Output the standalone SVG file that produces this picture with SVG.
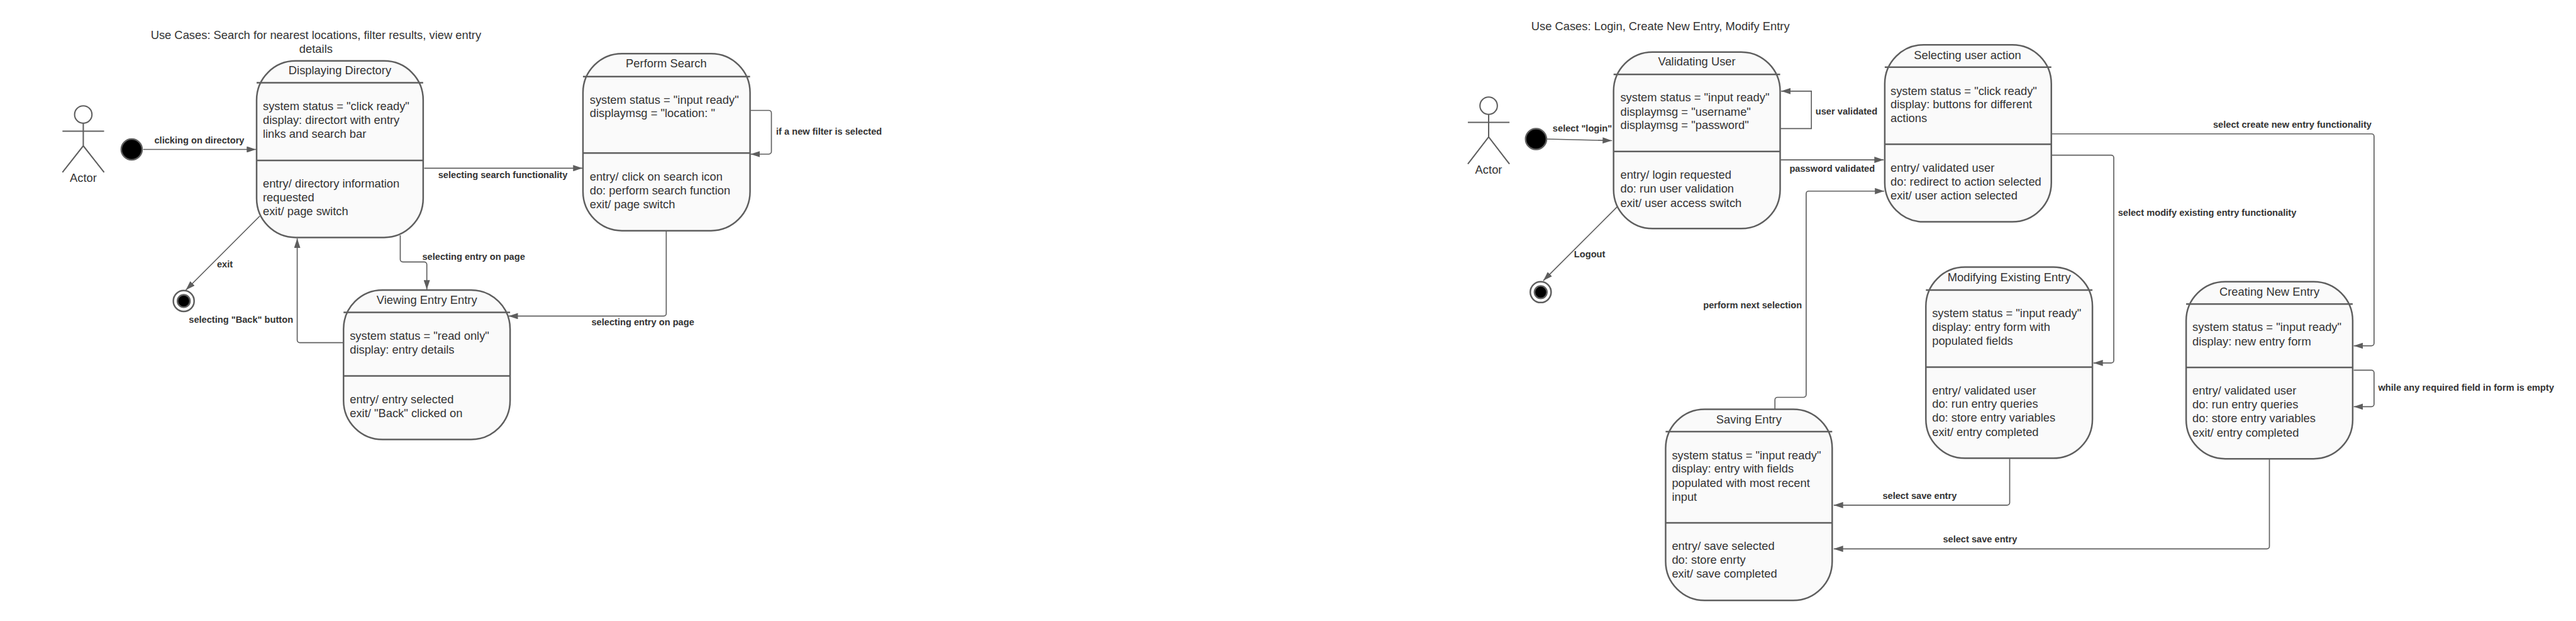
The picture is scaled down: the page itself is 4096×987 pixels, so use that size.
<svg xmlns="http://www.w3.org/2000/svg" width="4096" height="987" viewBox="0 0 4096 987">
<style>
text{font-family:"Liberation Sans",Arial,sans-serif;fill:#333}
.t{font-size:22.2px}
.m{text-anchor:middle}
.l{font-size:17.7px;font-weight:700}
.box{fill:#fafafa;stroke:#5e5e5e;stroke-width:3}
.sep{stroke:#5e5e5e;stroke-width:3;fill:none}
.c{fill:none;stroke:#5e5e5e;stroke-width:2;marker-end:url(#a)}
.fig{fill:none;stroke:#5e5e5e;stroke-width:2.5}
.start{fill:#000;stroke:#5e5e5e;stroke-width:3}
.endo{fill:#fff;stroke:#5e5e5e;stroke-width:3}
.endi{fill:#000;stroke:#5e5e5e;stroke-width:3}
</style>
<defs>
<marker id="a" markerUnits="userSpaceOnUse" viewBox="0 0 18 12" markerWidth="18" markerHeight="12" refX="18" refY="6" orient="auto"><path d="M0 0L18 6L0 12Z" fill="#5e5e5e"/></marker>
</defs>
<rect width="4096" height="987" fill="#fff"/>
<g transform="scale(0.82764)">
<g id="connectors">
<path class="c" d="M275 287H492"/>
<path class="c" d="M499 415L357 557"/>
<path class="c" d="M660 658H576a5 5 0 0 1-5-5V458"/>
<path class="c" d="M769 452V498a5 5 0 0 0 5 5H815a5 5 0 0 1 5 5V556"/>
<path class="c" d="M1280 443V602a5 5 0 0 1-5 5H977"/>
<path class="c" d="M1442 212H1477a5 5 0 0 1 5 5V291a5 5 0 0 1-5 5H1442"/>
<path class="c" d="M815 323H1119"/>
<path class="c" d="M2972 267L3097 270"/>
<path class="c" d="M3421 247H3480V175H3422"/>
<path class="c" d="M3421 307H3619"/>
<path class="c" d="M3410 786V768a5 5 0 0 1 5-5H3465a5 5 0 0 0 5-5V372a5 5 0 0 1 5-5H3620"/>
<path class="c" d="M3107 397L2965 539"/>
<path class="c" d="M3942 257H4556a5 5 0 0 1 5 5V659a5 5 0 0 1-5 5H4522"/>
<path class="c" d="M3942 298H4056a5 5 0 0 1 5 5V692a5 5 0 0 1-5 5H4022"/>
<path class="c" d="M3861 881V965a5 5 0 0 1-5 5H3523"/>
<path class="c" d="M4522 711H4556a5 5 0 0 1 5 5V776a5 5 0 0 1-5 5H4522"/>
<path class="c" d="M4360 882V1049a5 5 0 0 1-5 5H3523"/>
</g>
<g id="connector-labels">
<text class="l m" x="383" y="276">clicking on directory</text>
<text class="l m" x="432" y="513">exit</text>
<text class="l m" x="463" y="620">selecting "Back" button</text>
<text class="l m" x="910" y="499">selecting entry on page</text>
<text class="l m" x="1235" y="625">selecting entry on page</text>
<text class="l" x="1491" y="258">if a new filter is selected</text>
<text class="l m" x="966" y="342">selecting search functionality</text>
<text class="l m" x="3040" y="252">select "login"</text>
<text class="l" x="3488" y="220">user validated</text>
<text class="l m" x="3520" y="330">password validated</text>
<text class="l m" x="3367" y="592">perform next selection</text>
<text class="l m" x="3054" y="494">Logout</text>
<text class="l m" x="4404" y="245">select create new entry functionality</text>
<text class="l" x="4069" y="414">select modify existing entry functionality</text>
<text class="l m" x="3688" y="958">select save entry</text>
<text class="l" x="4569" y="750">while any required field in form is empty</text>
<text class="l m" x="3804" y="1041">select save entry</text>
</g>
<g id="title-left"><text class="t m" x="607" y="75">Use Cases: Search for nearest locations, filter results, view entry</text><text class="t m" x="607" y="102">details</text></g>
<g id="title-right"><text class="t m" x="3190" y="58">Use Cases: Login, Create New Entry, Modify Entry</text></g>
<g id="actor-left"><circle class="fig" cx="160" cy="220" r="16.7"/><path class="fig" d="M160 237V280M120 252H200M120 331L160 280L200 331"/><text class="t m" x="160" y="349">Actor</text></g>
<g id="actor-right"><circle class="fig" cx="2860" cy="203" r="16.7"/><path class="fig" d="M2860 220V263M2820 235H2900M2820 315L2860 263L2900 315"/><text class="t m" x="2860" y="333">Actor</text></g>
<g id="start-left"><circle class="start" cx="253" cy="287" r="20"/></g>
<g id="start-right"><circle class="start" cx="2951" cy="267" r="20"/></g>
<g id="end-left"><circle class="endo" cx="353" cy="578" r="20"/><circle class="endi" cx="353" cy="578" r="12"/></g>
<g id="end-right"><circle class="endo" cx="2960" cy="561" r="20"/><circle class="endi" cx="2960" cy="561" r="12"/></g>
<g id="displaying-directory"><rect class="box" x="493" y="117" width="320" height="339" rx="75" ry="75"/><path class="sep" d="M493 159H813M493 308H813"/>
<text class="t m" x="653" y="143">Displaying Directory</text>
<text class="t" x="505" y="212">system status = "click ready"</text><text class="t" x="505" y="238">display: directort with entry</text><text class="t" x="505" y="265">links and search bar</text>
<text class="t" x="505" y="360">entry/ directory information</text><text class="t" x="505" y="387">requested</text><text class="t" x="505" y="413">exit/ page switch</text></g>
<g id="perform-search"><rect class="box" x="1120" y="103" width="321" height="340" rx="75" ry="75"/><path class="sep" d="M1120 147H1441M1120 294H1441"/>
<text class="t m" x="1280" y="129">Perform Search</text>
<text class="t" x="1133" y="199">system status = "input ready"</text><text class="t" x="1133" y="225">displaymsg = "location: "</text>
<text class="t" x="1133" y="347">entry/ click on search icon</text><text class="t" x="1133" y="373">do: perform search function</text><text class="t" x="1133" y="400">exit/ page switch</text></g>
<g id="viewing-entry"><rect class="box" x="660" y="557" width="320" height="287" rx="75" ry="75"/><path class="sep" d="M660 600H980M660 722H980"/>
<text class="t m" x="820" y="584">Viewing Entry Entry</text>
<text class="t" x="672" y="652">system status = "read only"</text><text class="t" x="672" y="679">display: entry details</text>
<text class="t" x="672" y="774">entry/ entry selected</text><text class="t" x="672" y="801">exit/ "Back" clicked on</text></g>
<g id="validating-user"><rect class="box" x="3100" y="100" width="320" height="339" rx="75" ry="75"/><path class="sep" d="M3100 143H3420M3100 291H3420"/>
<text class="t m" x="3260" y="126">Validating User</text>
<text class="t" x="3113" y="195">system status = "input ready"</text><text class="t" x="3113" y="222">displaymsg = "username"</text><text class="t" x="3113" y="248">displaymsg = "password"</text>
<text class="t" x="3113" y="343">entry/ login requested</text><text class="t" x="3113" y="370">do: run user validation</text><text class="t" x="3113" y="397">exit/ user access switch</text></g>
<g id="selecting-user-action"><rect class="box" x="3621" y="86" width="320" height="340" rx="75" ry="75"/><path class="sep" d="M3621 129H3941M3621 277H3941"/>
<text class="t m" x="3780" y="113">Selecting user action</text>
<text class="t" x="3632" y="182">system status = "click ready"</text><text class="t" x="3632" y="208">display: buttons for different</text><text class="t" x="3632" y="235">actions</text>
<text class="t" x="3632" y="330">entry/ validated user</text><text class="t" x="3632" y="357">do: redirect to action selected</text><text class="t" x="3632" y="383">exit/ user action selected</text></g>
<g id="modifying-existing-entry"><rect class="box" x="3700" y="513" width="320" height="367" rx="75" ry="75"/><path class="sep" d="M3700 557H4020M3700 705H4020"/>
<text class="t m" x="3860" y="540">Modifying Existing Entry</text>
<text class="t" x="3712" y="609">system status = "input ready"</text><text class="t" x="3712" y="636">display: entry form with</text><text class="t" x="3712" y="662">populated fields</text>
<text class="t" x="3712" y="757">entry/ validated user</text><text class="t" x="3712" y="783">do: run entry queries</text><text class="t" x="3712" y="810">do: store entry variables</text><text class="t" x="3712" y="837">exit/ entry completed</text></g>
<g id="creating-new-entry"><rect class="box" x="4200" y="541" width="320" height="340" rx="75" ry="75"/><path class="sep" d="M4200 584H4520M4200 705.500H4520"/>
<text class="t m" x="4360" y="568">Creating New Entry</text>
<text class="t" x="4212" y="636">system status = "input ready"</text><text class="t" x="4212" y="663">display: new entry form</text>
<text class="t" x="4212" y="757">entry/ validated user</text><text class="t" x="4212" y="784">do: run entry queries</text><text class="t" x="4212" y="811">do: store entry variables</text><text class="t" x="4212" y="838">exit/ entry completed</text></g>
<g id="saving-entry"><rect class="box" x="3200" y="786" width="320" height="367" rx="75" ry="75"/><path class="sep" d="M3200 829H3520M3200 1004H3520"/>
<text class="t m" x="3360" y="813">Saving Entry</text>
<text class="t" x="3212" y="882">system status = "input ready"</text><text class="t" x="3212" y="908">display: entry with fields</text><text class="t" x="3212" y="935">populated with most recent</text><text class="t" x="3212" y="962">input</text>
<text class="t" x="3212" y="1056">entry/ save selected</text><text class="t" x="3212" y="1083">do: store enrty</text><text class="t" x="3212" y="1109">exit/ save completed</text></g>
</g>
</svg>
